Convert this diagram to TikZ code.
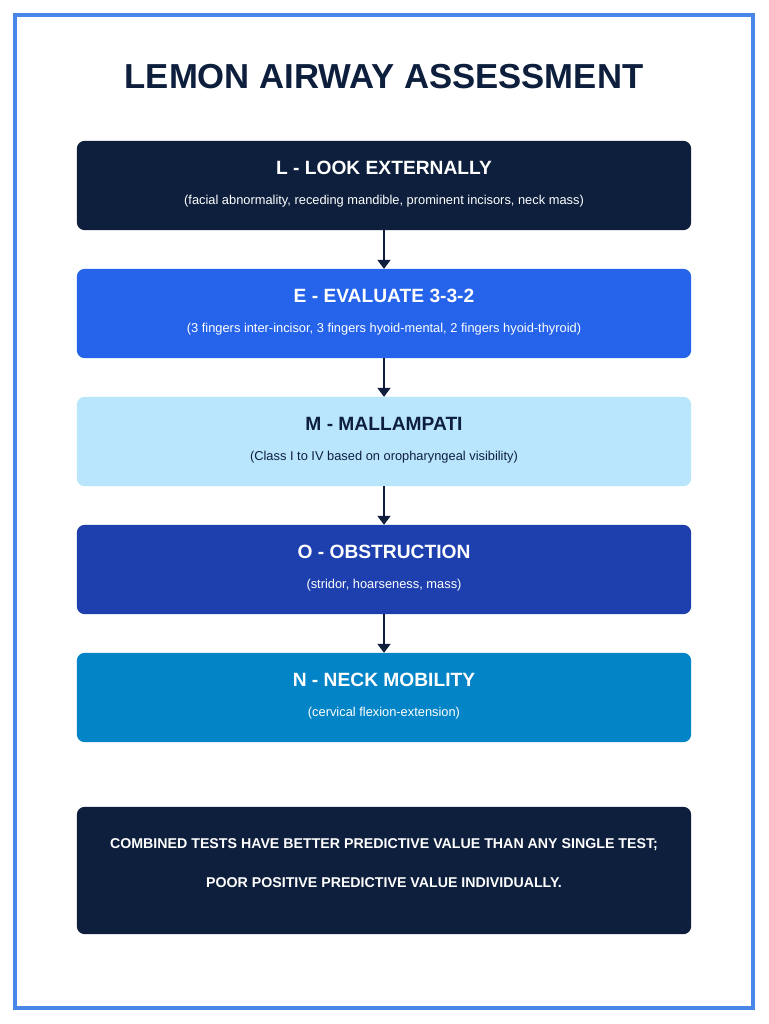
\documentclass[tikz,border=0pt]{standalone}
\usepackage{fontspec}
\setmainfont{Liberation Sans}
\usetikzlibrary{arrows.meta}
\definecolor{navy}{HTML}{0D1F3C}
\definecolor{frameblue}{HTML}{4A86E8}
\definecolor{cA}{HTML}{0D1F3C}
\definecolor{cB}{HTML}{2563EB}
\definecolor{cC}{HTML}{BAE6FD}
\definecolor{cD}{HTML}{1E40AF}
\definecolor{cE}{HTML}{0284C7}
\tikzset{
  stepbox/.style={minimum width=614pt, minimum height=89pt, inner sep=0pt, draw=none},
  ttl/.style={font=\fontsize{19.2}{22}\selectfont\bfseries},
  sub/.style={font=\fontsize{12.85}{15}\selectfont},
  conn/.style={draw=navy, line width=2pt, -{Triangle[length=9pt,width=13pt]}},
}
\newcommand{\rbox}[2]{%
  \fill[#2] ([xshift=8pt]#1.north west) -- ([xshift=-8pt]#1.north east)
    arc[start angle=90, end angle=0, radius=8pt]
    -- ([yshift=8pt]#1.south east)
    arc[start angle=0, end angle=-90, radius=8pt]
    -- ([xshift=8pt]#1.south west)
    arc[start angle=270, end angle=180, radius=8pt]
    -- ([yshift=-8pt]#1.north west)
    arc[start angle=180, end angle=90, radius=8pt] -- cycle;}
\begin{document}
\begin{tikzpicture}[x=1pt,y=-1pt]
\useasboundingbox (0,0) rectangle (768,1024);
\fill[white] (0,0) rectangle (768,1024);
\draw[frameblue, line width=4pt] (15,15) rectangle (753,1008);
\node[font=\fontsize{34.7}{40}\selectfont\bfseries, text=navy] (title) at (384,77) {LEMON AIRWAY ASSESSMENT};

\node[stepbox] (L) at (384,185.5) {};
\node[stepbox] (E) at (384,313.5) {};
\node[stepbox] (M) at (384,441.5) {};
\node[stepbox] (O) at (384,569.5) {};
\node[stepbox] (N) at (384,697.5) {};
\node[stepbox, minimum height=127pt] (S) at (384,870.5) {};
\begin{scope}[x=1pt,y=1pt]
\rbox{L}{cA}
\rbox{E}{cB}
\rbox{M}{cC}
\rbox{O}{cD}
\rbox{N}{cE}
\rbox{S}{cA}
\end{scope}

\node[ttl, text=white] (Lt) at (384,168) {L - LOOK EXTERNALLY};
\node[sub, text=white] (Ls) at (384,201.5) {(facial abnormality, receding mandible, prominent incisors, neck mass)};
\node[ttl, text=white] (Et) at (384,296) {E - EVALUATE 3-3-2};
\node[sub, text=white] (Es) at (384,329.5) {(3 fingers inter-incisor, 3 fingers hyoid-mental, 2 fingers hyoid-thyroid)};
\node[ttl, text=navy] (Mt) at (384,424) {M - MALLAMPATI};
\node[sub, text=navy] (Ms) at (384,457.5) {(Class I to IV based on oropharyngeal visibility)};
\node[ttl, text=white] (Ot) at (384,552) {O - OBSTRUCTION};
\node[sub, text=white] (Os) at (384,585.5) {(stridor, hoarseness, mass)};
\node[ttl, text=white] (Nt) at (384,680) {N - NECK MOBILITY};
\node[sub, text=white] (Ns) at (384,713.5) {(cervical flexion-extension)};

\node[font=\fontsize{14.2}{16}\selectfont\bfseries, text=white] (S1) at (384,845) {COMBINED TESTS HAVE BETTER PREDICTIVE VALUE THAN ANY SINGLE TEST;};
\node[font=\fontsize{14.2}{16}\selectfont\bfseries, text=white] (S2) at (384,883) {POOR POSITIVE PREDICTIVE VALUE INDIVIDUALLY.};

\draw[conn] (L.south) -- (E.north);
\draw[conn] (E.south) -- (M.north);
\draw[conn] (M.south) -- (O.north);
\draw[conn] (O.south) -- (N.north);
\end{tikzpicture}
\end{document}
